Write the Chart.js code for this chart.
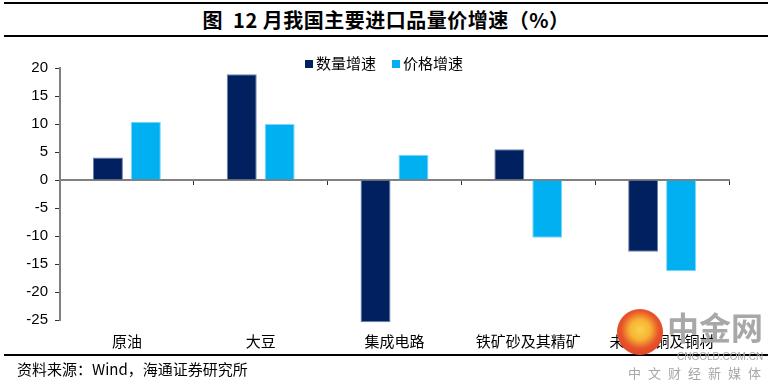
<!DOCTYPE html>
<html>
<head>
<meta charset="utf-8">
<script src="https://cdn.jsdelivr.net/npm/chart.js@4"></script>
<style>
  body { margin: 0; background: #fff; }
  #wrap { position: relative; width: 773px; height: 381px; overflow: hidden; font-family: "Noto Sans CJK SC", sans-serif; }
  #title { position: absolute; left: 4px; top: 2px; width: 764px; height: 31px; border-top: 2px solid #000; border-bottom: 2px solid #000;
           text-align: center; font-size: 20px; font-weight: bold; line-height: 31px; letter-spacing: 0.5px; }
  #foot { position: absolute; left: 4px; top: 354px; width: 764px; border-top: 2px solid #000; font-size: 15px; line-height: 26px; padding-left: 13px; box-sizing: border-box; }
  #legend { position: absolute; top: 53px; left: 305px; font-size: 15px; line-height: 20px; }
  #legend span.box { display: inline-block; width: 8px; height: 8px; margin-right: 3px; vertical-align: 1px; }
  #legend span.item { margin-right: 16px; }
  canvas { position: absolute; left: 0; top: 0; }
  .wm { position: absolute; color: #a8a8a8; }
  #logo { position: absolute; left: 617px; top: 309px; width: 46px; height: 46px; border-radius: 50%;
          background: radial-gradient(circle at 50% 45%, #f9d34a 0, #f6b233 30%, #e8542a 55%, #d6341f 100%); }
</style>
</head>
<body>
<div id="wrap">
  <div id="title">图&nbsp; 12 月我国主要进口品量价增速（%）</div>
  <canvas id="chart" width="773" height="381"></canvas>
  <div id="legend">
    <span class="item"><span class="box" style="background:#002060"></span>数量增速</span><span class="item"><span class="box" style="background:#00B0F0"></span>价格增速</span>
  </div>
  <div id="foot">资料来源：Wind，海通证券研究所</div>
  <div id="logo"></div>
  <div class="wm" style="left:667px;top:306px;font-size:32px;font-weight:bold;line-height:40px;">中金网</div>
  <div class="wm" style="left:677px;top:351px;font-size:10px;font-family:'Liberation Sans';line-height:12px;">CNGOLD.COM.CN</div>
  <div class="wm" style="left:628px;top:365px;font-size:13px;letter-spacing:7px;line-height:16px;">中文财经新媒体</div>
</div>
<script>
  const categories = ["原油", "大豆", "集成电路", "铁矿砂及其精矿", "未锻轧铜及铜材"];
  const quantityGrowth = [4.0, 18.9, -25.4, 5.5, -12.8];
  const priceGrowth = [10.4, 10.0, 4.5, -10.3, -16.3];
  const yTicks = [20, 15, 10, 5, 0, -5, -10, -15, -20, -25];

  const axisGray = "#808080";

  new Chart(document.getElementById("chart"), {
    type: "bar",
    data: {
      labels: categories,
      datasets: [
        {
          label: "数量增速",
          data: quantityGrowth,
          backgroundColor: "#002060",
          borderColor: "#6b82ad",
          borderWidth: 1,
          xAxisID: "x"
        },
        {
          label: "价格增速",
          data: priceGrowth,
          backgroundColor: "#00B0F0",
          borderColor: "#7fd6f6",
          borderWidth: 1,
          xAxisID: "x"
        }
      ]
    },
    options: {
      responsive: false,
      animation: false,
      layout: { padding: { top: 68, right: 44, left: 0, bottom: 0 } },
      datasets: { bar: { categoryPercentage: 0.567, barPercentage: 0.79, clip: false } },
      plugins: {
        legend: { display: false },
        tooltip: { enabled: false }
      },
      scales: {
        x: {
          type: "category",
          position: "bottom",
          offset: true,
          grid: { display: false, drawTicks: false },
          border: { display: false },
          ticks: {
            color: "#000",
            padding: 12,
            maxRotation: 0,
            autoSkip: false,
            font: { family: "Noto Sans CJK SC", size: 15 }
          },
          afterFit: (s) => { s.height = 61; }
        },
        x2: {
          type: "category",
          labels: categories,
          position: { y: 0 },
          offset: true,
          grid: { offset: true, drawOnChartArea: false, tickLength: 4, color: "#333" },
          border: { color: axisGray, width: 2 },
          ticks: { display: false }
        },
        y: {
          min: -25,
          max: 20,
          afterBuildTicks: (s) => { s.ticks = yTicks.map(v => ({ value: v })); },
          grid: { drawOnChartArea: false, tickLength: 5, color: "#333" },
          border: { color: axisGray, width: 2 },
          ticks: {
            color: "#000",
            padding: 7,
            font: { family: "Liberation Sans", size: 15 }
          },
          afterFit: (s) => { s.width = 60; }
        }
      }
    }
  });
</script>
</body>
</html>
